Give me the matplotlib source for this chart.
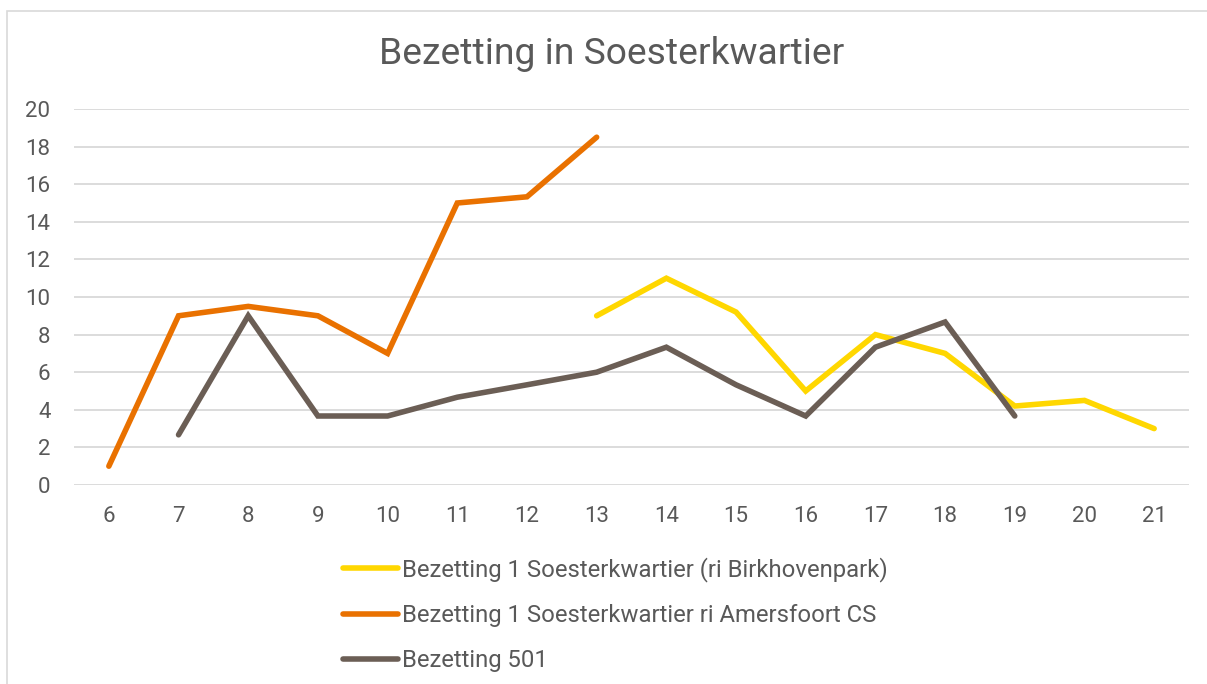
import numpy as np
import matplotlib.pyplot as plt
from matplotlib.patches import Rectangle

# Uren (categorie-as)
hours = [6, 7, 8, 9, 10, 11, 12, 13, 14, 15, 16, 17, 18, 19, 20, 21]

# Bezetting per uur, None = geen waarde
birkhovenpark = [None, None, None, None, None, None, None, 9, 11, 9.2, 5, 8, 7, 4.2, 4.5, 3]
amersfoort = [1, 9, 9.5, 9, 7, 15, 15.33, 18.5, None, None, None, None, None, None, None, None]
lijn_501 = [None, 2.67, 9, 3.67, 3.67, 4.67, 5.33, 6, 7.33, 5.33, 3.67, 7.33, 8.67, 3.67, None, None]

labels = [
    "Bezetting 1 Soesterkwartier (ri Birkhovenpark)",
    "Bezetting 1 Soesterkwartier ri Amersfoort CS",
    "Bezetting 501",
]
colors = ["#FFD700", "#E97100", "#6B5E55"]
yticks = [0, 2, 4, 6, 8, 10, 12, 14, 16, 18, 20]

plt.rcParams['font.family'] = ['Roboto', 'DejaVu Sans']
text_color = "#595959"

W, H = 1207, 684
fig = plt.figure(figsize=(W / 100, H / 100), dpi=100)

# rand van de grafiek (alleen boven en links zichtbaar)
fig.patches.append(Rectangle((7 / W, -0.1), 1.2, (H - 11) / H + 0.1,
                             transform=fig.transFigure, fill=False,
                             edgecolor="#D9D9D9", linewidth=1.2))

ax = fig.add_axes([74 / W, (H - 485) / H, 1115 / W, 376 / H])

x = np.arange(len(hours))
for series, lab, col in zip([birkhovenpark, amersfoort, lijn_501], labels, colors):
    y = np.array([np.nan if v is None else v for v in series], dtype=float)
    ax.plot(x, y, color=col, linewidth=4.0, label=lab,
            solid_capstyle='round', solid_joinstyle='miter')

ax.set_xlim(-0.5, len(hours) - 0.5)
ax.set_ylim(0, 20)
ax.set_xticks(x)
ax.set_xticklabels([str(h) for h in hours])
ax.set_yticks(yticks)
ax.yaxis.grid(True, color="#D9D9D9", linewidth=1.3)
ax.set_axisbelow(True)
for s in ax.spines.values():
    s.set_visible(False)
ax.tick_params(axis='both', length=0, labelsize=16, labelcolor=text_color)
ax.tick_params(axis='y', pad=17)
ax.tick_params(axis='x', pad=15)

fig.text(612 / W, 1 - 54 / H, "Bezetting in Soesterkwartier", ha='center', va='center',
         fontsize=26.8, color=text_color)

leg = fig.legend(loc='upper left', bbox_to_anchor=(343 / W, 1 - 557 / H),
                 frameon=False, fontsize=17.2, handlelength=2.3, handletextpad=0.17,
                 labelspacing=0.92, borderpad=0, borderaxespad=0)
for t in leg.get_texts():
    t.set_color(text_color)

fig.savefig("out.png", dpi=100)
